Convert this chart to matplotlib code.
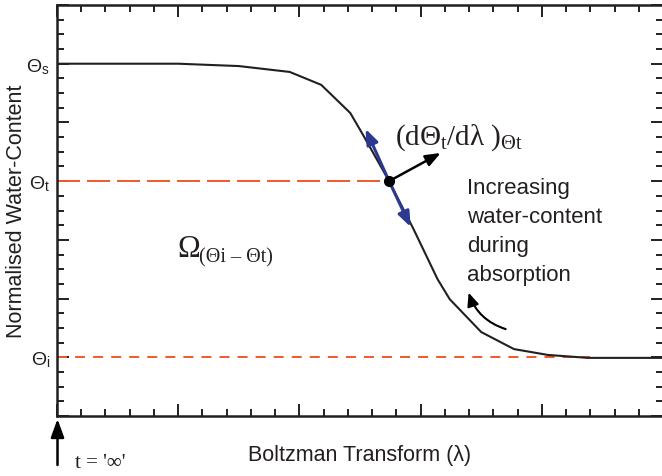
import matplotlib
matplotlib.use('Agg')
import matplotlib.pyplot as plt
from matplotlib.ticker import MultipleLocator, FixedLocator, FixedFormatter

plt.rcParams.update({
    'font.family': 'Liberation Sans',
    'mathtext.fontset': 'custom',
    'mathtext.rm': 'Liberation Serif',
    'mathtext.sf': 'Liberation Sans',
    'mathtext.it': 'Liberation Serif:italic',
    'lines.scale_dashes': False,
})

INK = '#231f20'
RED = '#ee5a2b'
BLUE = '#2b3990'

# wetting front profile (Boltzmann transform vs normalised water content)
lam = [0, 5, 7.5, 9.6, 10.9, 12.1, 12.65, 13.7, 14.7, 15.7, 16.2, 17.5, 18.85, 20.25, 21.9, 25]
theta = [6.0, 6.0, 5.96, 5.86, 5.64, 5.16, 4.77, 4.0, 3.19, 2.33, 1.99, 1.43, 1.14, 1.04, 0.99, 0.99]

theta_i, theta_t, theta_s = 1.0, 4.0, 6.0
lam_t = 13.7
tangent_up = (12.73, 4.89)
tangent_down = (14.59, 3.22)
normal_tip = (15.83, 4.48)

ytick_vals = [0, 1, 2, 3, 4, 5, 6, 7]
ytick_labels = ['', r'Θ$_{\mathsf{i}}$', '', '', r'Θ$_{\mathsf{t}}$', '', r'Θ$_{\mathsf{s}}$', '']

fig = plt.figure(figsize=(6.62, 4.77), dpi=100)
ax = fig.add_axes([57 / 662, 1 - 417 / 477, 606 / 662, 411 / 477])

ax.plot(lam, theta, color=INK, lw=1.5, zorder=3)
ax.plot([0, lam_t], [theta_t, theta_t], color=RED, lw=1.4, dashes=(16.6, 5), zorder=2)
ax.plot([0, 22], [theta_i, theta_i], color=RED, lw=1.4, dashes=(7.2, 5.8), zorder=2)

# tangent (blue) and normal (black) at theta_t
for tip in (tangent_up, tangent_down):
    ax.annotate('', xy=tip, xytext=(lam_t, theta_t),
                arrowprops=dict(arrowstyle='-|>,head_length=0.9,head_width=0.35',
                                color=BLUE, lw=2.2, shrinkA=0, shrinkB=0), zorder=4)
ax.annotate('', xy=normal_tip, xytext=(lam_t, theta_t),
            arrowprops=dict(arrowstyle='-|>,head_length=0.9,head_width=0.35',
                            color='black', lw=1.8, shrinkA=0, shrinkB=0), zorder=5)
ax.plot([lam_t], [theta_t], 'o', color='black', ms=7, zorder=6)

ax.text(13.95, 4.63, r'(dΘ$_{\mathrm{t}}$/dλ )$_{\mathrm{Θt}}$', family='Liberation Serif',
        fontsize=21, color=INK, va='baseline')
ax.text(16.9, 4.07, 'Increasing\nwater-content\nduring\nabsorption', fontsize=16,
        color=INK, va='top', linespacing=1.5)
ax.annotate('', xy=(16.98, 2.1), xytext=(18.51, 1.48),
            arrowprops=dict(arrowstyle='-|>,head_length=0.8,head_width=0.35', color='black',
                            lw=1.5, connectionstyle='arc3,rad=-0.25', shrinkA=0, shrinkB=0))
ax.text(4.95, 2.73, 'Ω', family='Liberation Serif', fontsize=22, color=INK, va='baseline')
ax.text(5.87, 2.64, '(Θi – Θt)', family='Liberation Serif', fontsize=14.5, color=INK, va='baseline')

ax.set_xlim(0, 25)
ax.set_ylim(0, 7)
ax.xaxis.set_major_locator(MultipleLocator(5))
ax.xaxis.set_minor_locator(MultipleLocator(1))
ax.set_xticklabels([])
ax.yaxis.set_major_locator(FixedLocator(ytick_vals))
ax.yaxis.set_major_formatter(FixedFormatter(ytick_labels))
ax.yaxis.set_minor_locator(MultipleLocator(0.25))
ax.tick_params(which='both', direction='in', top=True, right=True, width=1.4, colors=INK,
               labelsize=14, labelcolor=INK)
ax.tick_params(which='major', length=8.5, pad=5)
ax.tick_params(which='minor', length=5)
for sp in ax.spines.values():
    sp.set_linewidth(1.8)
    sp.set_color(INK)

ax.set_xlabel('Boltzman Transform (λ)', fontsize=15.5, color=INK, labelpad=15)
ax.set_ylabel('Normalised Water-Content', fontsize=15.5, color=INK)
ax.yaxis.set_label_coords(-0.05, 0.5)

# t = infinity marker below the origin
ax.annotate('', xy=(57.5, 477 - 420), xytext=(57.5, 477 - 466), xycoords='figure pixels',
            textcoords='figure pixels',
            arrowprops=dict(arrowstyle='-|>,head_length=1.1,head_width=0.4', color='black',
                            lw=1.8, shrinkA=0, shrinkB=0))
fig.text(75 / 662, 1 - 468 / 477, "t = '∞'", family='Liberation Serif', fontsize=15,
         color=INK, va='baseline')

fig.savefig('out.png', dpi=100, facecolor='white')
